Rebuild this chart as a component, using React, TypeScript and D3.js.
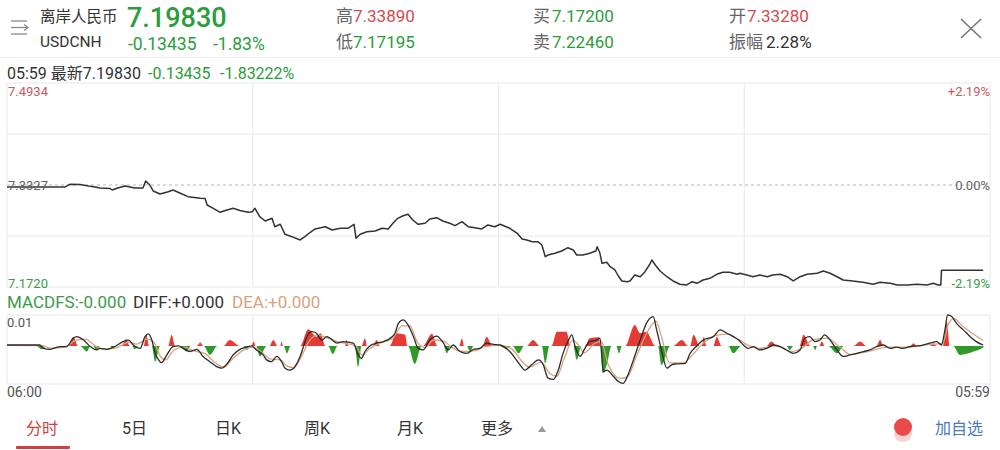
import React from 'react';
import * as d3 from 'd3';

// ---- quote header values ----
const quoteName = '离岸人民币';
const quoteCode = 'USDCNH';
const lastPrice = '7.19830';
const change = '-0.13435';
const changePct = '-1.83%';
const changePctLong = '-1.83222%';
const lastTime = '05:59';
const highVal = '7.33890';
const lowVal = '7.17195';
const bidVal = '7.17200';
const askVal = '7.22460';
const openVal = '7.33280';
const amplitude = '2.28%';

// ---- axes ----
const priceTickLabels = ['7.4934', '7.3327', '7.1720'];
const pctTickLabels = ['+2.19%', '0.00%', '-2.19%'];
const prevClose = 7.3327;
const timeLabels = ['06:00', '05:59'];
const macdTopLabel = '0.01';
const tabs = ['分时', '5日', '日K', '周K', '月K', '更多'];

// ---- minute price series [minute from 06:00, price] ----
const priceData: [number, number][] = [
  [0, 7.3296], [85, 7.3296], [92, 7.3338], [107, 7.3335], [119, 7.3311], [129, 7.3296], [136, 7.328], [151, 7.3272],
  [154, 7.3248], [162, 7.328], [173, 7.3311], [187, 7.328], [199, 7.328], [203, 7.3389], [209, 7.3327], [214, 7.3233],
  [224, 7.3185], [236, 7.3221], [243, 7.3248], [253, 7.3201], [265, 7.3143], [283, 7.3118], [290, 7.3114], [293, 7.3012],
  [302, 7.296], [312, 7.2897], [322, 7.2933], [331, 7.296], [341, 7.2925], [353, 7.2897], [359, 7.2906], [363, 7.296],
  [370, 7.2828], [378, 7.276], [388, 7.2802], [392, 7.267], [400, 7.2708], [407, 7.255], [417, 7.2513], [429, 7.2461],
  [436, 7.2513], [444, 7.2582], [451, 7.2634], [466, 7.267], [476, 7.2618], [488, 7.2645], [499, 7.2645], [508, 7.2708],
  [511, 7.2487], [517, 7.255], [527, 7.2591], [539, 7.2602], [549, 7.2645], [558, 7.2634], [565, 7.2724], [572, 7.2802],
  [580, 7.2843], [587, 7.2865], [594, 7.2776], [602, 7.2708], [612, 7.2724], [619, 7.2791], [629, 7.2812], [638, 7.276],
  [648, 7.2724], [656, 7.2686], [666, 7.2749], [675, 7.267], [685, 7.2654], [695, 7.2634], [704, 7.2697], [714, 7.267],
  [722, 7.2708], [736, 7.2645], [747, 7.2566], [754, 7.2476], [761, 7.2461], [769, 7.2434], [777, 7.2434], [783, 7.2382],
  [788, 7.2197], [792, 7.2224], [802, 7.2251], [812, 7.2287], [821, 7.2339], [829, 7.2303], [834, 7.2224], [843, 7.2224],
  [853, 7.2251], [862, 7.2287], [864, 7.2355], [868, 7.2251], [871, 7.2093], [878, 7.2109], [883, 7.204], [890, 7.1988],
  [894, 7.1909], [900, 7.1815], [908, 7.1804], [912, 7.1815], [919, 7.1909], [927, 7.1882], [934, 7.1961], [941, 7.2078],
  [944, 7.2145], [949, 7.2067], [956, 7.1972], [966, 7.1882], [975, 7.1815], [985, 7.1763], [995, 7.1752], [1003, 7.1804],
  [1010, 7.1778], [1019, 7.183], [1029, 7.1857], [1039, 7.192], [1048, 7.1952], [1058, 7.1952], [1069, 7.192], [1073, 7.1936],
  [1083, 7.1909], [1092, 7.1882], [1102, 7.1909], [1113, 7.1882], [1121, 7.1909], [1132, 7.192], [1142, 7.1882], [1151, 7.1815],
  [1161, 7.1882], [1171, 7.192], [1186, 7.1936], [1195, 7.1972], [1205, 7.1936], [1215, 7.1882], [1224, 7.183], [1238, 7.1815],
  [1253, 7.1794], [1268, 7.1763], [1278, 7.1794], [1293, 7.1778], [1303, 7.1752], [1318, 7.1752], [1332, 7.1763], [1347, 7.1752],
  [1356, 7.1778], [1363, 7.1752], [1367, 7.1752], [1368, 7.1983], [1429, 7.1983],
];

// ---- MACD DIFF line ----
const diffData: [number, number][] = [
  [0, 0.0003], [48, 0.0003], [53, -0.0008], [63, -0.0011], [78, -0.0002], [87, -0.0002], [97, 0.0025], [102, 0.003],
  [112, 0.0019], [122, -0.0002], [131, -0.0013], [136, -0.0008], [146, -0.0011], [156, -0.0004], [170, 0.0014], [178, 0.0019],
  [185, 0.0003], [195, -0.0008], [202, 0.003], [207, 0.0039], [212, 0.0019], [217, -0.0024], [222, -0.0045], [226, -0.0054],
  [234, -0.0029], [243, -0.0002], [251, 0], [258, -0.0008], [268, -0.0018], [278, -0.0011], [287, -0.0034], [297, -0.0051],
  [307, -0.0067], [314, -0.0072], [322, -0.0058], [331, -0.0029], [341, -0.0011], [351, -0.0004], [358, 0], [365, -0.0013],
  [375, -0.0029], [380, -0.0045], [387, -0.0051], [395, -0.0034], [402, -0.0051], [407, -0.0072], [414, -0.0078], [422, -0.0065],
  [429, -0.0034], [434, -0.0002], [439, 0.003], [446, 0.0046], [453, 0.0041], [461, 0.0019], [468, 0.003], [473, 0.0025],
  [483, 0.0009], [492, 0.0014], [507, 0.0009], [514, -0.0029], [519, -0.004], [524, -0.0018], [531, 0], [541, 0.0009],
  [551, 0.0014], [561, 0.0025], [568, 0.0041], [573, 0.0073], [580, 0.0084], [587, 0.0068], [595, 0.003], [602, -0.0008],
  [609, -0.0013], [619, 0.0019], [629, 0.0032], [639, 0.0009], [646, -0.0013], [653, 0.0003], [663, -0.0018], [673, -0.0024],
  [683, -0.0011], [692, -0.0008], [702, 0.0009], [712, 0.0005], [722, 0.0003], [736, -0.0018], [751, -0.0061], [758, -0.0078],
  [768, -0.0061], [778, -0.0045], [785, -0.0061], [792, -0.0104], [800, -0.0108], [807, -0.0078], [814, -0.0024], [822, 0.0019],
  [827, 0.0036], [831, 0.0003], [839, -0.0034], [846, -0.0008], [853, 0.0014], [863, 0.0019], [868, 0.0025], [873, -0.0083],
  [878, -0.0078], [888, -0.0099], [895, -0.0115], [902, -0.0121], [910, -0.0088], [917, -0.0045], [927, 0.0019], [936, 0.0073],
  [946, 0.0095], [951, 0.0052], [958, -0.0013], [966, -0.0072], [973, -0.0061], [980, -0.0058], [993, -0.0056], [1000, -0.0024],
  [1010, 0], [1019, 0.0019], [1027, 0.0025], [1034, 0.003], [1044, 0.0052], [1054, 0.0041], [1063, 0.003], [1071, 0.0019],
  [1078, 0.0003], [1085, -0.0008], [1093, -0.0002], [1102, -0.0013], [1112, -0.0008], [1122, 0.0003], [1132, -0.0002], [1141, -0.0013],
  [1151, -0.0024], [1161, -0.0013], [1168, 0.0025], [1175, 0.003], [1183, 0.0014], [1190, 0.0019], [1197, 0.0036], [1205, 0.0019],
  [1215, -0.0013], [1224, -0.0034], [1234, -0.0029], [1244, -0.0024], [1254, -0.0018], [1263, -0.0013], [1273, -0.0002], [1283, 0.0003],
  [1293, -0.0008], [1302, -0.0004], [1312, -0.0008], [1322, -0.0002], [1332, 0], [1341, 0.0003], [1351, 0.0009], [1361, 0.0014],
  [1368, 0.0003], [1373, 0.0052], [1377, 0.01], [1383, 0.0095], [1390, 0.0073], [1400, 0.0052], [1410, 0.003], [1419, 0.0014],
  [1429, 0.0003],
];

// ---- MACD DEA line ----
const deaData: [number, number][] = [
  [0, 0.0002], [50, 0.0001], [65, -0.0007], [85, -0.0004], [100, 0.0018], [115, 0.0022], [128, 0.0002], [140, -0.001],
  [160, -0.0006], [178, 0.0012], [190, 0.0006], [205, 0.0022], [215, 0.0012], [225, -0.0035], [232, -0.0045], [245, -0.0012],
  [260, -0.0004], [272, -0.0015], [290, -0.0025], [305, -0.0055], [318, -0.0068], [330, -0.0042], [345, -0.0015], [360, -0.0004],
  [372, -0.0018], [385, -0.0042], [400, -0.0045], [410, -0.0065], [420, -0.007], [432, -0.003], [442, 0.0015], [455, 0.0035],
  [470, 0.0025], [485, 0.0013], [510, 0], [520, -0.003], [530, -0.001], [545, 0.0008], [565, 0.0025], [578, 0.0065],
  [590, 0.0065], [600, 0.0015], [612, -0.0005], [625, 0.002], [640, 0.0015], [650, -0.0003], [668, -0.0018], [685, -0.0015],
  [700, -0.0002], [722, 0.0002], [740, -0.0012], [756, -0.0055], [765, -0.0068], [782, -0.0052], [795, -0.009], [805, -0.0098],
  [815, -0.0045], [828, 0.0018], [836, 0.0005], [845, -0.0022], [860, 0.0008], [870, 0.0015], [880, -0.006], [898, -0.0105],
  [908, -0.01], [922, -0.003], [940, 0.0055], [950, 0.008], [958, 0.003], [970, -0.0055], [990, -0.0055], [1005, -0.0025],
  [1020, 0.001], [1040, 0.0035], [1055, 0.0038], [1070, 0.0022], [1085, 0.0002], [1100, -0.0008], [1125, 0], [1150, -0.0018],
  [1165, -0.0005], [1180, 0.002], [1200, 0.0025], [1220, -0.0005], [1235, -0.0028], [1260, -0.0018], [1290, -0.0004], [1320, -0.0004],
  [1350, 0.0005], [1370, 0.0008], [1378, 0.007], [1386, 0.0088], [1400, 0.0062], [1415, 0.0038], [1429, 0.0018],
];

// ---- MACD histogram (MACDFS) ----
const histData: [number, number][] = [
  [0, 0], [43, 0], [51, -0.0011], [58, 0], [90, 0], [97, 0.003], [104, 0], [107, 0], [117, -0.0018], [122, 0], [126, 0],
  [131, -0.0013], [136, 0], [151, 0], [155, -0.0011], [158, 0], [168, 0], [174, 0.0022], [180, 0], [183, 0], [187, -0.0011],
  [192, 0], [200, 0], [204, 0.0036], [208, 0], [212, 0], [217, -0.0051], [224, 0], [236, 0], [241, 0.0036], [246, 0],
  [253, 0], [263, -0.0018], [269, 0], [278, 0], [283, 0.0011], [287, 0], [288, 0], [297, -0.0029], [308, 0], [317, 0],
  [326, 0.0019], [341, 0], [346, 0], [351, -0.0013], [356, 0], [358, 0], [361, 0.0014], [364, 0], [365, 0], [370, -0.0034],
  [380, 0], [384, 0], [390, 0.0019], [396, 0], [400, 0], [402, 0.0014], [404, 0], [405, 0], [410, -0.0024], [415, 0],
  [429, 0], [441, 0.0054], [453, 0.003], [459, 0.0041], [466, 0], [470, 0], [477, -0.0026], [484, 0], [495, 0], [497, 0.0019],
  [500, 0], [509, 0], [514, -0.0067], [519, 0], [524, 0.0025], [527, 0], [536, 0], [541, 0.0019], [546, 0], [560, 0],
  [570, 0.0041], [583, 0.0036], [586, 0], [587, 0], [597, -0.0058], [607, 0], [609, 0], [622, 0.0039], [630, 0], [639, 0],
  [644, -0.0024], [649, 0], [662, 0], [666, 0.0025], [669, 0], [673, 0], [678, -0.0018], [683, 0], [696, 0], [702, 0.003],
  [711, 0], [722, 0], [729, -0.0008], [739, 0], [740, 0], [749, -0.0024], [757, 0], [761, 0], [770, 0.0019], [780, 0],
  [783, 0], [788, -0.0056], [794, 0], [797, 0], [805, 0.0046], [819, 0.0046], [825, 0], [829, 0], [834, -0.0045], [841, 0],
  [846, 0], [853, 0.0025], [866, 0.0028], [869, 0], [872, -0.0088], [878, -0.0061], [885, 0], [892, 0], [896, -0.0024],
  [900, 0], [905, 0], [919, 0.0068], [927, 0.0041], [936, 0.0046], [949, 0], [953, 0], [958, -0.0061], [971, 0], [975, 0],
  [988, 0.0019], [997, 0], [1000, 0], [1005, 0.0036], [1014, 0], [1017, 0], [1020, 0.003], [1024, 0], [1034, 0], [1039, 0.003],
  [1046, 0], [1056, 0], [1063, -0.0024], [1075, 0], [1112, 0], [1119, 0.0014], [1127, 0], [1141, 0], [1146, -0.0013], [1151, 0],
  [1160, 0], [1166, 0.0036], [1176, 0], [1180, 0], [1183, -0.0013], [1186, 0], [1189, 0], [1193, 0.0014], [1197, 0], [1202, 0],
  [1215, -0.0024], [1225, 0], [1239, 0], [1249, 0.0014], [1258, 0], [1273, 0], [1278, 0.0019], [1283, 0], [1322, 0],
  [1327, 0.0009], [1332, 0], [1351, 0], [1356, 0.0009], [1361, 0], [1370, 0], [1376, 0.0079], [1380, 0], [1385, 0],
  [1395, -0.0029], [1415, -0.0018], [1429, -0.0004], [1430, 0],
];

const GREEN = '#2a9d3c';
const RED = '#d24b4b';
const GRID = '#e8e8e8';
const FONT = 'Roboto, "Noto Sans CJK SC", sans-serif';

export default function App() {
  const left = 7, right = 990;
  const x = d3.scaleLinear().domain([0, 1439]).range([left, right]);
  const yP = d3.scaleLinear().domain([7.172, 7.4934]).range([287, 83]);
  const yM = d3.scaleLinear().domain([-0.0123, 0.01]).range([384, 315]);

  const priceLine = d3.line<[number, number]>().x(d => x(d[0])).y(d => yP(d[1]))(priceData) || '';
  const diffLine = d3.line<[number, number]>().x(d => x(d[0])).y(d => yM(d[1])).curve(d3.curveMonotoneX)(diffData) || '';
  const deaLine = d3.line<[number, number]>().x(d => x(d[0])).y(d => yM(d[1])).curve(d3.curveMonotoneX)(deaData) || '';
  const redArea = d3.area<[number, number]>().x(d => x(d[0])).y0(yM(0)).y1(d => yM(Math.max(0, d[1]))).curve(d3.curveMonotoneX)(histData) || '';
  const greenArea = d3.area<[number, number]>().x(d => x(d[0])).y0(yM(0)).y1(d => yM(Math.min(0, d[1]))).curve(d3.curveMonotoneX)(histData) || '';

  const vLines = [1, 2, 3].map(i => left + ((right - left) * i) / 4);
  const hGrid = [7.4934, 7.41305, 7.25235, 7.172];
  const tabX = [26, 122, 215, 304, 397, 481];

  return (
    <svg width={1000} height={450} style={{ position: 'fixed', left: 0, top: 0, background: '#fff' }} fontFamily={FONT}>
      <rect x={0} y={0} width={1000} height={450} fill="#fff" />
      {/* header icon */}
      <g stroke="#8a8a8a" strokeWidth={1.3} fill="none">
        <line x1={11} y1={21} x2={27} y2={21} />
        <line x1={11} y1={27.5} x2={28} y2={27.5} />
        <polyline points="24,24.5 28,27.5 24,30.5" />
        <line x1={11} y1={34} x2={27} y2={34} />
      </g>
      <text x={40} y={22} fontSize={15.5} fill="#333">{quoteName}</text>
      <text x={40} y={47} fontSize={15.5} fill="#333">{quoteCode}</text>
      <text x={127} y={27} fontSize={27} fontWeight={500} fill={GREEN}>{lastPrice}</text>
      <text x={128} y={50} fontSize={17.5} fill={GREEN}>{change}</text>
      <text x={213} y={50} fontSize={17.5} fill={GREEN}>{changePct}</text>

      <text x={336} y={22} fontSize={17} fill="#666">高</text>
      <text x={353} y={22} fontSize={17} fill={RED}>{highVal}</text>
      <text x={336} y={48} fontSize={17} fill="#666">低</text>
      <text x={353} y={48} fontSize={17} fill={GREEN}>{lowVal}</text>

      <text x={533} y={22} fontSize={17} fill="#666">买</text>
      <text x={552} y={22} fontSize={17} fill={GREEN}>{bidVal}</text>
      <text x={533} y={48} fontSize={17} fill="#666">卖</text>
      <text x={552} y={48} fontSize={17} fill={GREEN}>{askVal}</text>

      <text x={729} y={22} fontSize={17} fill="#666">开</text>
      <text x={747} y={22} fontSize={17} fill={RED}>{openVal}</text>
      <text x={729} y={48} fontSize={17} fill="#666">振幅</text>
      <text x={766} y={48} fontSize={17} fill="#333">{amplitude}</text>

      <g stroke="#777" strokeWidth={1.6}>
        <line x1={961} y1={19} x2={981} y2={38} />
        <line x1={981} y1={19} x2={961} y2={38} />
      </g>

      <line x1={0} y1={57.5} x2={1000} y2={57.5} stroke="#f0f0f0" />

      <text x={7} y={79} fontSize={16} fill="#333">{lastTime} 最新{lastPrice}</text>
      <text x={148} y={79} fontSize={16} fill={GREEN}>{change}</text>
      <text x={220} y={79} fontSize={16} fill={GREEN}>{changePctLong}</text>

      {/* main chart grid */}
      {hGrid.map((v, i) => (
        <line key={'h' + i} x1={left} x2={right} y1={yP(v)} y2={yP(v)} stroke={GRID} strokeWidth={1} />
      ))}
      <line x1={left} x2={right} y1={yP(prevClose)} y2={yP(prevClose)} stroke="#b5b5b5" strokeDasharray="3,3" />
      <line x1={left} x2={left} y1={83} y2={287} stroke={GRID} />
      <line x1={right} x2={right} y1={83} y2={287} stroke={GRID} />
      {vLines.map((v, i) => (
        <line key={'v' + i} x1={v} x2={v} y1={83} y2={287} stroke={GRID} />
      ))}

      <path d={priceLine} fill="none" stroke="#333" strokeWidth={1.5} strokeLinejoin="round" />

      <text x={8} y={96} fontSize={13} fill="#c85a5a">{priceTickLabels[0]}</text>
      <text x={8} y={190} fontSize={13} fill="#666">{priceTickLabels[1]}</text>
      <text x={8} y={288} fontSize={13} fill="#3c9a4a">{priceTickLabels[2]}</text>
      <text x={990} y={96} fontSize={13} fill="#c85a5a" textAnchor="end">{pctTickLabels[0]}</text>
      <text x={990} y={190} fontSize={13} fill="#666" textAnchor="end">{pctTickLabels[1]}</text>
      <text x={990} y={288} fontSize={13} fill="#3c9a4a" textAnchor="end">{pctTickLabels[2]}</text>

      {/* MACD */}
      <text x={7} y={308} fontSize={17} fill="#3c9a4a">MACDFS:-0.000</text>
      <text x={133} y={308} fontSize={17} fill="#333">DIFF:+0.000</text>
      <text x={232} y={308} fontSize={17} fill="#d9a27e">DEA:+0.000</text>

      <line x1={left} x2={right} y1={315} y2={315} stroke={GRID} />
      <line x1={left} x2={right} y1={384} y2={384} stroke={GRID} />
      <line x1={left} x2={left} y1={315} y2={384} stroke={GRID} />
      <line x1={right} x2={right} y1={315} y2={384} stroke={GRID} />
      {vLines.map((v, i) => (
        <line key={'mv' + i} x1={v} x2={v} y1={315} y2={384} stroke={GRID} />
      ))}
      <text x={7} y={327} fontSize={13} fill="#555">{macdTopLabel}</text>

      <path d={redArea} fill="#e43c35" />
      <path d={greenArea} fill="#2f9a2a" />
      <path d={deaLine} fill="none" stroke="#d9a27e" strokeWidth={1.3} />
      <path d={diffLine} fill="none" stroke="#2b2b2b" strokeWidth={1.3} />

      <text x={7} y={397} fontSize={14} fill="#555">{timeLabels[0]}</text>
      <text x={990} y={397} fontSize={14} fill="#555" textAnchor="end">{timeLabels[1]}</text>

      {/* bottom tabs */}
      {tabs.map((t, i) => (
        <text key={t} x={tabX[i]} y={434} fontSize={16} fill={i === 0 ? '#d04040' : '#333'}>{t}</text>
      ))}
      <rect x={16} y={446} width={54} height={3} fill="#d04040" rx={1} />
      <path d="M538,432 L546,432 L542,426 Z" fill="#999" />
      <ellipse cx={903} cy={434} rx={9} ry={8} fill="#f4b5b5" opacity={0.6} />
      <circle cx={903} cy={427} r={9} fill="#e94a4a" />
      <text x={935} y={434} fontSize={16} fill="#4a7ab8">加自选</text>
    </svg>
  );
}
